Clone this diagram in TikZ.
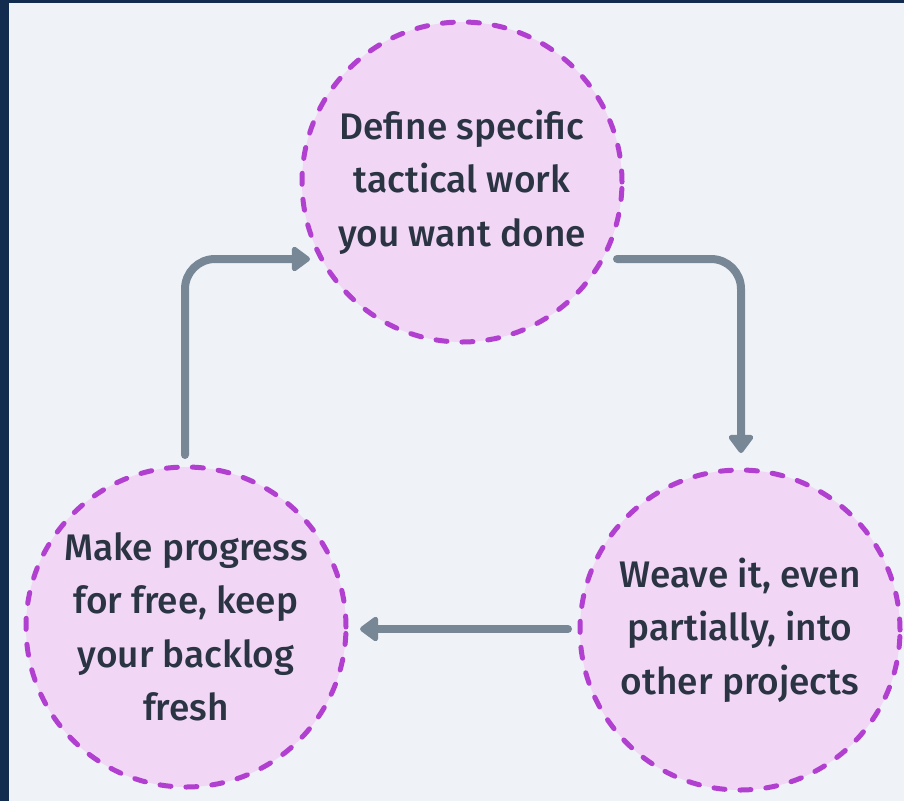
\documentclass[tikz,border=0pt]{standalone}
\usepackage{fontspec}
\setmainfont{Fira Sans}[UprightFont=* Medium]
\usetikzlibrary{arrows.meta}
\definecolor{navy}{HTML}{112C4E}
\definecolor{bgc}{HTML}{EFF3F7}
\definecolor{circfill}{HTML}{F1D6F5}
\definecolor{circline}{HTML}{B13FCF}
\definecolor{arrowc}{HTML}{788796}
\definecolor{txt}{HTML}{2B3443}
\tikzset{
  stepcirc/.style={circle, minimum size=320pt, inner sep=0pt, fill=circfill, draw=circline,
    line width=5pt, dash pattern=on 11pt off 15pt, line cap=round, text=txt,
    font=\fontsize{37}{53.5}\selectfont, align=center},
  flow/.style={draw=arrowc, line width=8pt, line cap=round, rounded corners=30pt,
    -{Triangle[length=20pt,width=28pt,round]}}
}
\begin{document}
\begin{tikzpicture}[x=1pt,y=-1pt]
\useasboundingbox (0,0) rectangle (904,801);
\fill[navy] (0,0) rectangle (904,801);
\fill[bgc] (9,3) rectangle (904,801);
\node[stepcirc] (T) at (462,182) {Define specific\\tactical work\\you want done};
\node[stepcirc] (L) at (186,627) {Make progress\\for free, keep\\your backlog\\fresh};
\node[stepcirc] (R) at (740,630) {Weave it, even\\partially, into\\other projects};
\coordinate (la) at (185,455);
\coordinate (lb) at (310,259);
\coordinate (ra) at (617,259);
\coordinate (rb) at (741,453);
\coordinate (ba) at (568,629);
\coordinate (bb) at (360,629);
\draw[flow] (la) |- (lb);
\draw[flow] (ra) -| (rb);
\draw[flow] (ba) -- (bb);
\end{tikzpicture}
\end{document}
